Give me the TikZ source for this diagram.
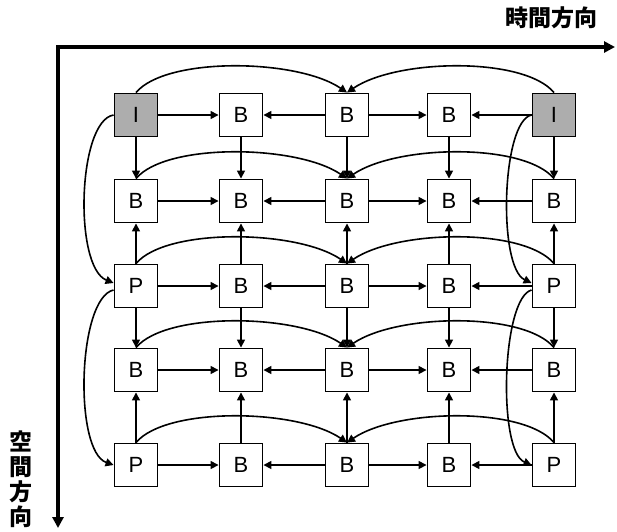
\documentclass[tikz,border=0pt]{standalone}
\usepackage{fontspec}
\setmainfont{Liberation Sans}
\newfontfamily\cjk{Noto Sans CJK JP}
\usetikzlibrary{arrows.meta,calc}
\tikzset{
  box/.style={draw, line width=1.9pt, minimum width=43pt, minimum height=43pt, inner sep=0pt,
    font=\fontsize{22}{22}\selectfont, fill=white},
  ibox/.style={box, fill=black!32},
  arr/.style={line width=1.6pt, -{Triangle[length=8pt,width=8pt]}},
  axisline/.style={line width=3.4pt, line join=miter},
  lbl/.style={font=\cjk\bfseries\fontsize{23}{25}\selectfont, inner sep=0pt, align=center},
}
\begin{document}
\begin{tikzpicture}[x=1pt,y=1pt]
\useasboundingbox (0,0) rectangle (617,-531);
% axes
\coordinate (o) at (58,-47);
\coordinate (tx) at (615,-47);
\coordinate (sy) at (58,-528);
\draw[axisline, {Triangle[length=11pt,width=11pt]}-{Triangle[length=11pt,width=11pt]}] (sy) -- (o) -- (tx);
\node[lbl] (tl) at (551,-18) {時間方向};
\node[lbl] (sl) at (21,-479) {空\\間\\方\\向};
% nodes
\foreach \r/\y in {1/115,2/201,3/286,4/370,5/465}{
  \foreach \c/\x in {1/136,2/241,3/347,4/449,5/554}{
    \coordinate (p\r\c) at (\x,-\y);
  }
}
\node[ibox] (n11) at (p11) {I};
\node[box] (n12) at (p12) {B};
\node[box] (n13) at (p13) {B};
\node[box] (n14) at (p14) {B};
\node[ibox] (n15) at (p15) {I};
\node[box] (n21) at (p21) {B};
\node[box] (n22) at (p22) {B};
\node[box] (n23) at (p23) {B};
\node[box] (n24) at (p24) {B};
\node[box] (n25) at (p25) {B};
\node[box] (n31) at (p31) {P};
\node[box] (n32) at (p32) {B};
\node[box] (n33) at (p33) {B};
\node[box] (n34) at (p34) {B};
\node[box] (n35) at (p35) {P};
\node[box] (n41) at (p41) {B};
\node[box] (n42) at (p42) {B};
\node[box] (n43) at (p43) {B};
\node[box] (n44) at (p44) {B};
\node[box] (n45) at (p45) {B};
\node[box] (n51) at (p51) {P};
\node[box] (n52) at (p52) {B};
\node[box] (n53) at (p53) {B};
\node[box] (n54) at (p54) {B};
\node[box] (n55) at (p55) {P};
% horizontal and vertical arrows
\foreach \k in {1,...,5}{
  \draw[arr] (n\k1) -- (n\k2);
  \draw[arr] (n\k3) -- (n\k2);
  \draw[arr] (n\k3) -- (n\k4);
  \draw[arr] (n\k5) -- (n\k4);
  \draw[arr] (n1\k) -- (n2\k);
  \draw[arr] (n3\k) -- (n2\k);
  \draw[arr] (n3\k) -- (n4\k);
  \draw[arr] (n5\k) -- (n4\k);
  % arcs over each row
  \draw[arr] (n\k1.north) .. controls +(30,36) and +(-50,34) .. (n\k3.north);
  \draw[arr] (n\k5.north) .. controls +(-30,36) and +(50,34) .. (n\k3.north);
}
% side curves
\draw[arr] (n11.west) .. controls +(-36,-6) and +(-40,16) .. ([yshift=3pt]n31.west);
\draw[arr] ([yshift=-4pt]n31.west) .. controls +(-36,-8) and +(-40,14) .. (n51.west);
\draw[arr] (n15.west) .. controls +(-30,-6) and +(-34,16) .. ([yshift=3pt]n35.west);
\draw[arr] ([yshift=-4pt]n35.west) .. controls +(-30,-8) and +(-34,14) .. (n55.west);
\end{tikzpicture}
\end{document}
